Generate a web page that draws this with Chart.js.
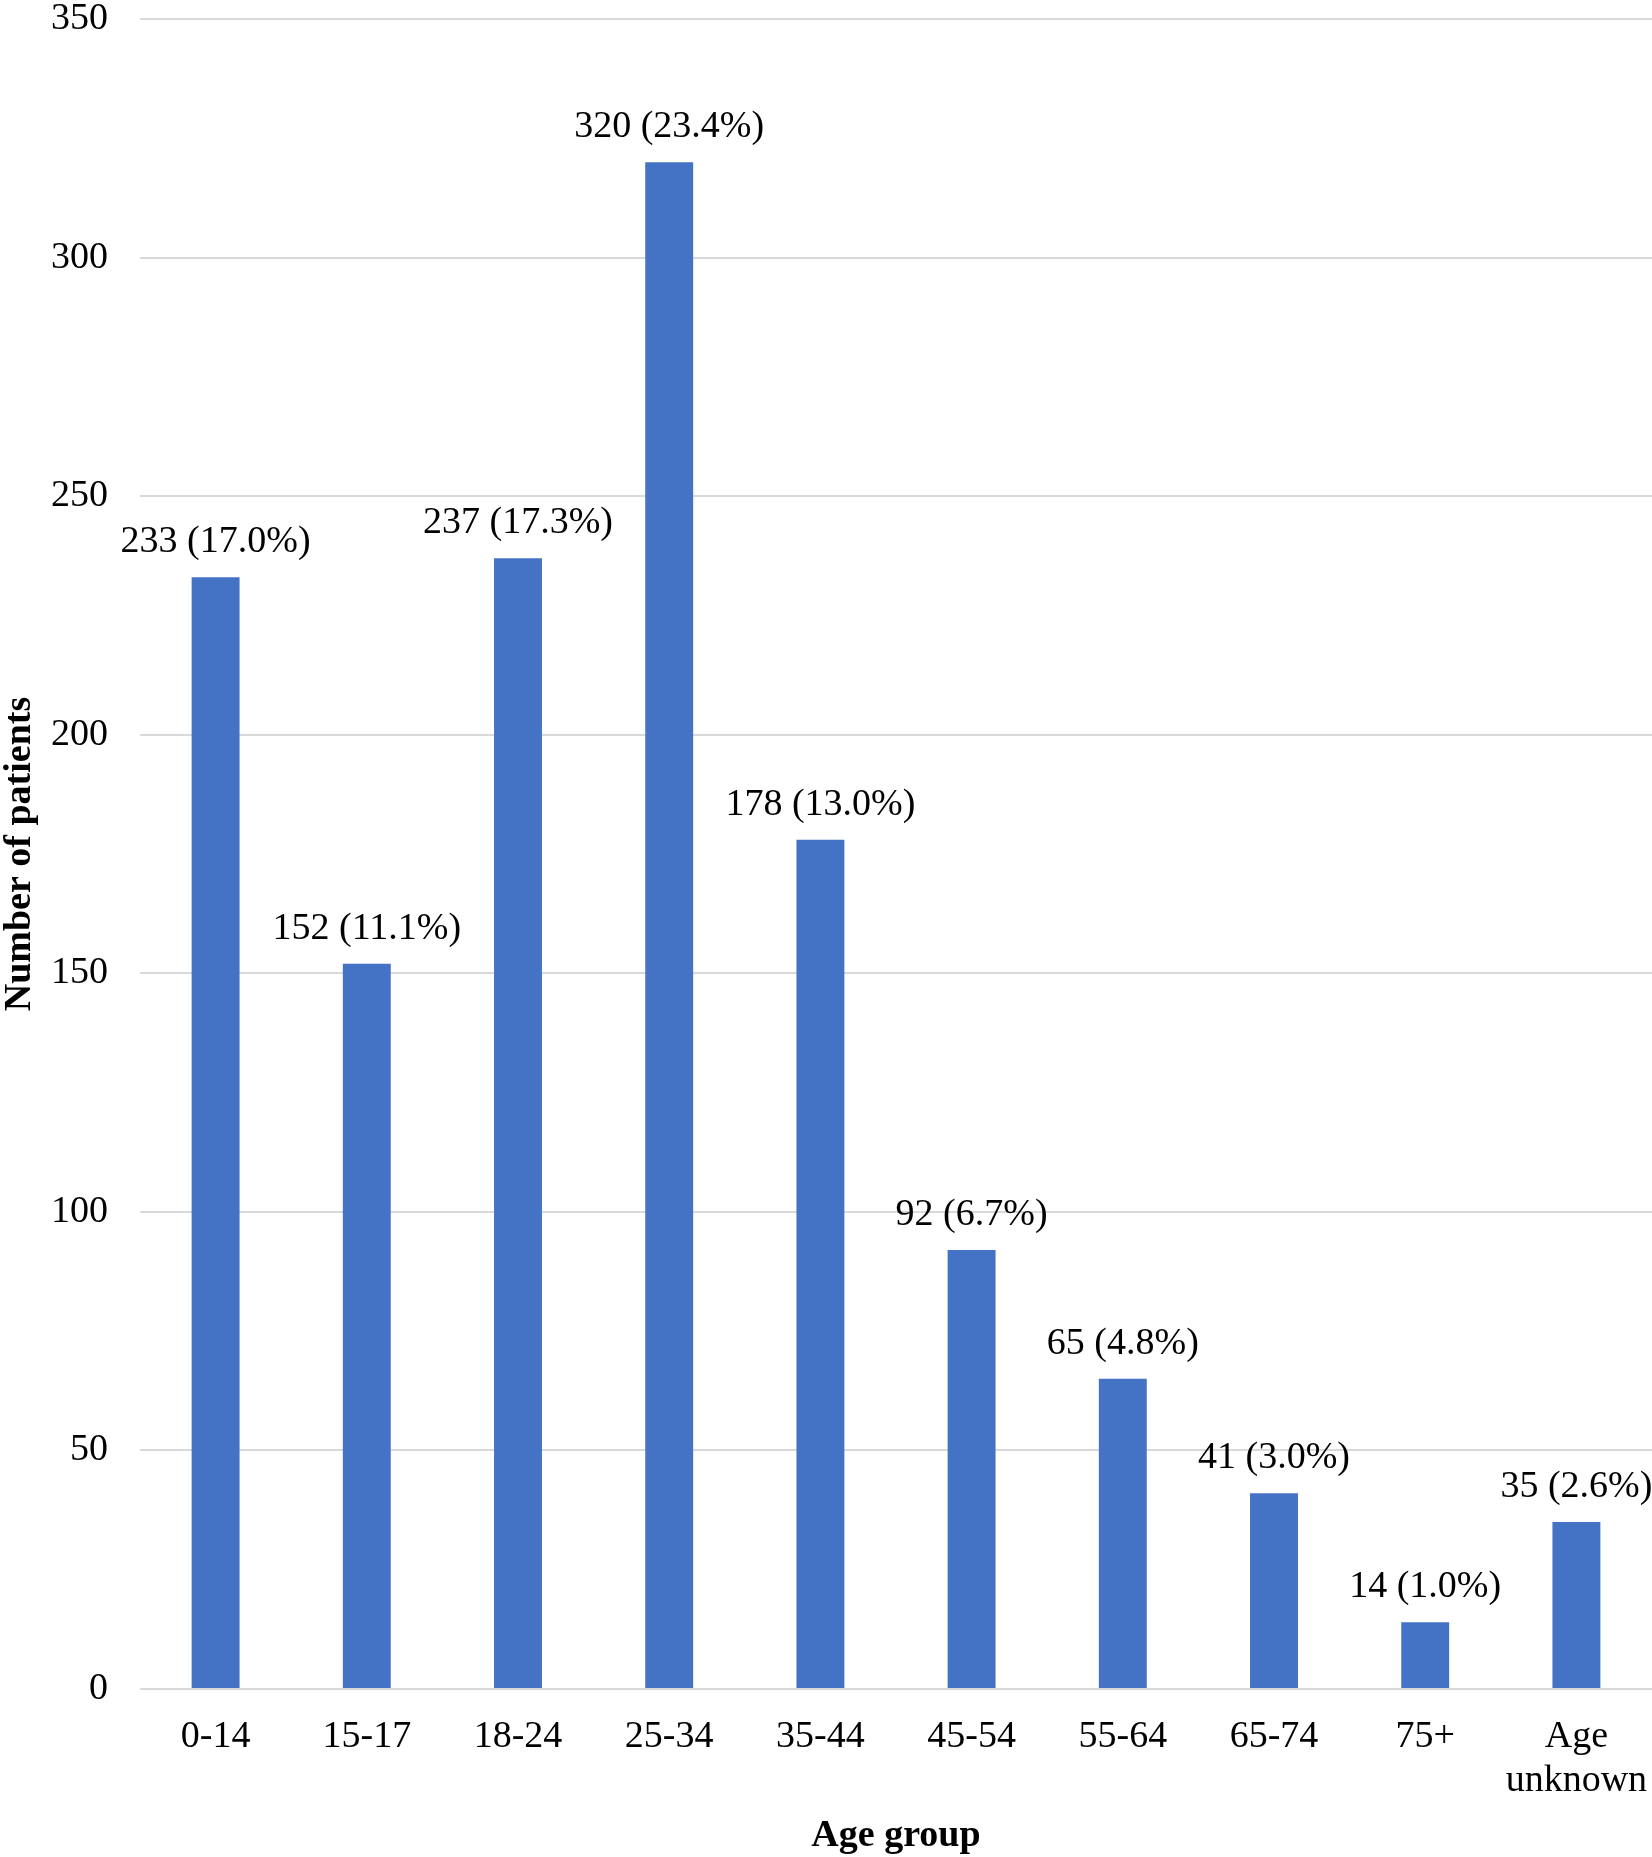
<!DOCTYPE html>
<html>
<head>
<meta charset="utf-8">
<script src="https://cdn.jsdelivr.net/npm/chart.js@4.4.0/dist/chart.umd.min.js"></script>
<style>
  html, body { margin: 0; padding: 0; background: #ffffff; }
  #wrap { width: 1652px; height: 1857px; position: relative; }
</style>
</head>
<body>
<div id="wrap"><canvas id="c" width="1652" height="1857"></canvas></div>
<script>
const categories = ["0-14", "15-17", "18-24", "25-34", "35-44", "45-54", "55-64", "65-74", "75+", ["Age", "unknown"]];
const patients = [233, 152, 237, 320, 178, 92, 65, 41, 14, 35];
const percentLabels = ["17.0%", "11.1%", "17.3%", "23.4%", "13.0%", "6.7%", "4.8%", "3.0%", "1.0%", "2.6%"];
const yTicks = [0, 50, 100, 150, 200, 250, 300, 350];

const FONT = "'Liberation Serif', 'Times New Roman', serif";

const valueLabelPlugin = {
  id: 'valueLabels',
  afterDatasetsDraw(chart) {
    const ctx = chart.ctx;
    const meta = chart.getDatasetMeta(0);
    ctx.save();
    ctx.font = "38px " + FONT;
    ctx.fillStyle = "#000000";
    ctx.textAlign = "center";
    ctx.textBaseline = "alphabetic";
    meta.data.forEach((bar, i) => {
      const txt = patients[i] + " (" + percentLabels[i] + ")";
      ctx.fillText(txt, bar.x, bar.y - 25);
    });
    ctx.restore();
  }
};

new Chart(document.getElementById('c'), {
  type: 'bar',
  data: {
    labels: categories,
    datasets: [{
      data: patients,
      backgroundColor: '#4472C4',
      borderWidth: 0,
      categoryPercentage: 1.0,
      barPercentage: 0.317
    }]
  },
  options: {
    responsive: false,
    animation: false,
    devicePixelRatio: 1,
    layout: { padding: { top: 19, right: 0, left: 0, bottom: 0 } },
    plugins: {
      legend: { display: false },
      tooltip: { enabled: false }
    },
    scales: {
      x: {
        grid: { display: false, drawTicks: false },
        border: { display: false },
        ticks: {
          color: '#000000',
          font: { family: FONT, size: 38, lineHeight: 1.15 },
          padding: 26,
          maxRotation: 0,
          autoSkip: false
        },
        title: {
          display: true,
          text: 'Age group',
          color: '#000000',
          font: { family: FONT, size: 38, weight: 'bold', lineHeight: 1.0 },
          padding: { top: 0, bottom: 2 }
        },
        afterFit(scale) {
          scale.height = 168;
          scale.paddingLeft = 0;
          scale.paddingRight = 0;
        }
      },
      y: {
        min: 0,
        max: 350,
        afterBuildTicks(scale) { scale.ticks = yTicks.map(v => ({ value: v })); },
        grid: { color: '#d9d9d9', lineWidth: 2, drawTicks: false },
        border: { display: false },
        ticks: {
          color: '#000000',
          font: { family: FONT, size: 38 },
          padding: 32
        },
        title: {
          display: true,
          text: 'Number of patients',
          color: '#000000',
          font: { family: FONT, size: 38, weight: 'bold', lineHeight: 1.0 },
          padding: { top: 1, bottom: 0 }
        },
        afterFit(scale) {
          scale.width = 140;
          scale.paddingTop = 0;
          scale.paddingBottom = 0;
        }
      }
    }
  },
  plugins: [valueLabelPlugin]
});
</script>
</body>
</html>
